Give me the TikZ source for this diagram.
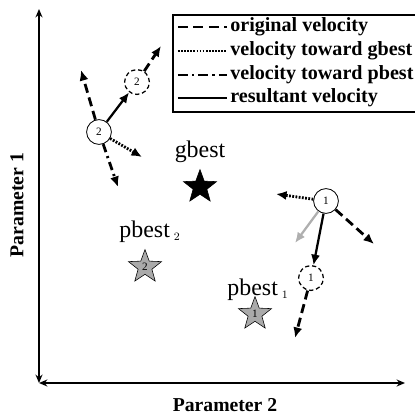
\documentclass[tikz,border=0pt]{standalone}
\usepackage{fontspec}
\setmainfont{Liberation Serif}
\usepackage{xcolor}
\usepackage{tikz}
\usetikzlibrary{positioning, arrows.meta, shapes.geometric}
\definecolor{bestgray}{RGB}{170,170,170}
\definecolor{pullgray}{RGB}{175,175,175}

\begin{document}
\begin{tikzpicture}[x=0.025cm, y=-0.025cm,
  axis/.style={{Stealth[length=6pt,width=5pt]}-{Stealth[length=6pt,width=5pt]}, line width=1.2pt},
  particle/.style={draw, circle, minimum size=0.62cm, inner sep=0pt, font=\footnotesize, fill=white, line width=0.6pt},
  nextpos/.style={particle, densely dashed, line width=0.9pt},
  beststar/.style={draw, star, star points=5, star point ratio=2.4, minimum size=0.87cm, inner sep=0pt, fill=bestgray, font=\footnotesize},
  lbl/.style={font=\fontsize{17}{17}\selectfont},
  legtext/.style={anchor=west, inner sep=0pt, font=\fontsize{14.3}{14.3}\selectfont\bfseries},
  vorig/.style={-{Latex[length=7.5pt,width=6.5pt]}, line width=2pt, dash pattern=on 6.5pt off 3.5pt},
  vgbest/.style={-{Latex[length=7.5pt,width=6.5pt]}, line width=2pt, dash pattern=on 1.3pt off 1pt},
  vpbest/.style={-{Latex[length=7.5pt,width=6.5pt]}, line width=2pt, dash pattern=on 6pt off 3pt on 1.5pt off 3pt},
  vres/.style={-{Latex[length=7.5pt,width=6.5pt]}, line width=1.6pt}]
  \useasboundingbox (0,0) rectangle (415,417);

  % axes
  \coordinate (origin) at (39,383);
  \coordinate (ytop) at (39,9);
  \coordinate (xend) at (405,383);
  \draw[axis] (ytop) -- (origin);
  \draw[axis] (origin) -- (xend);
  \node[rotate=90, font=\fontsize{14}{14}\selectfont\bfseries] (ylab) at (17,205) {Parameter 1};
  \node[font=\fontsize{14}{14}\selectfont\bfseries] (xlab) at (225,405) {Parameter 2};

  % legend
  \draw[line width=0.9pt] (416,15) -- (173,15) -- (173,112) -- (416,112);
  \draw[line width=2pt, dash pattern=on 7pt off 4pt] (178,27) -- (227,27);
  \draw[line width=2pt, dash pattern=on 1.2pt off 1pt] (178,51) -- (227,51);
  \draw[line width=2pt, dash pattern=on 7pt off 3pt on 1.5pt off 3pt] (178,75) -- (227,75);
  \draw[line width=2pt] (178,98) -- (227,98);
  \node[legtext] (leg1) at (230,27) {original velocity};
  \node[legtext] (leg2) at (230,51) {velocity toward gbest};
  \node[legtext] (leg3) at (230,75) {velocity toward pbest};
  \node[legtext] (leg4) at (230,98) {resultant velocity};

  % best positions
  \node[lbl] (glbl) at (200,152) {gbest};
  \node[beststar, fill=black] (gbest) at (200,187) {};
  \node[lbl] (p2lbl) at (150,232) {pbest\,{\fontsize{11}{11}\selectfont$_2$}};
  \node[beststar] (pbest2) at (145,267) {2};
  \node[lbl] (p1lbl) at (258,290) {pbest\,{\fontsize{11}{11}\selectfont$_1$}};
  \node[beststar] (pbest1) at (255,314) {1};

  % particle 2
  \node[particle] (p2) at (99,132) {2};
  \node[nextpos] (p2n) at (137,82) {2};
  \coordinate (p2o) at (81,70);
  \coordinate (p2g) at (142,157);
  \coordinate (p2p) at (118,187);
  \coordinate (p2f) at (161,46);
  \draw[vorig] (p2) -- (p2o);
  \draw[vgbest] (p2) -- (p2g);
  \draw[vpbest] (p2) -- (p2p);
  \draw[vres] (p2) -- (p2n);
  \draw[vorig] (p2n) -- (p2f);

  % particle 1
  \node[particle] (p1) at (326,201) {1};
  \node[nextpos] (p1n) at (311,278) {1};
  \coordinate (p1o) at (374,244);
  \coordinate (p1g) at (276,194);
  \coordinate (p1p) at (295,243);
  \coordinate (p1f) at (295,338);
  \draw[vorig] (p1) -- (p1o);
  \draw[vgbest] (p1) -- (p1g);
  \draw[-{Latex[length=7.5pt,width=6.5pt]}, line width=1.6pt, pullgray] (p1) -- (p1p);
  \draw[vres] (p1) -- (p1n);
  \draw[vorig] (p1n) -- (p1f);
\end{tikzpicture}
\end{document}
